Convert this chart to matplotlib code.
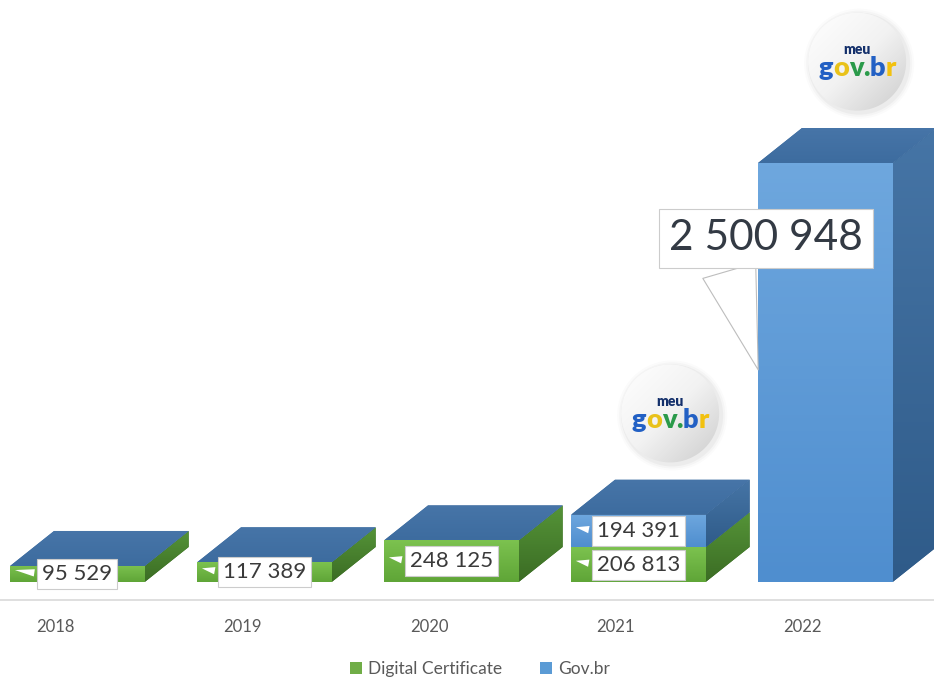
import numpy as np
import matplotlib
matplotlib.use('Agg')
import matplotlib.pyplot as plt
from matplotlib.patches import Polygon, Circle, Rectangle
from matplotlib.colors import LinearSegmentedColormap
from matplotlib.offsetbox import TextArea, HPacker, VPacker, AnnotationBbox
from matplotlib.transforms import ScaledTranslation

years = ['2018', '2019', '2020', '2021', '2022']
cert = [95529, 117389, 248125, 206813, 0]
govbr = [0, 0, 0, 194391, 2500948]
series = ['Digital Certificate', 'Gov.br']

plt.rcParams['font.family'] = ['Lato', 'DejaVu Sans']

GREEN = '#70ad47'
BLUE = '#5b9bd5'
TXT = '#3a3a3a'

x = np.arange(len(years))
bar_w = 0.72
shift = 0.12        # front faces sit right of the tick (perspective)
dx, dy = 0.235, 209000  # depth of the fake 3d boxes


def fmt(v):
    return f'{v:,}'.replace(',', ' ')


fig = plt.figure(figsize=(9.34, 6.8), dpi=100)
ax = fig.add_axes([0, 80 / 680, 1, 600 / 680])
ax.set_xlim(-0.294, 4.701)
ax.set_ylim(-107400, 3474000)
ax.set_autoscale_on(False)


def grad(patch, c_top, c_bot, ext, z):
    cmap = LinearSegmentedColormap.from_list('g', [c_bot, c_top])
    g = np.linspace(0, 1, 128).reshape(-1, 1)
    im = ax.imshow(g, cmap=cmap, extent=ext, origin='lower', aspect='auto', zorder=z)
    im.set_clip_path(patch)


def face(pts, c_top, c_bot, z):
    poly = Polygon(pts, closed=True, fc=c_bot, ec='none', zorder=z)
    ax.add_patch(poly)
    xs, ys = zip(*pts)
    grad(poly, c_top, c_bot, (min(xs), max(xs), min(ys), max(ys)), z + 0.01)


b_cert = ax.bar(x + shift, cert, bar_w, color=GREEN, zorder=2)
b_gov = ax.bar(x + shift, govbr, bar_w, bottom=cert, color=BLUE, zorder=2)

styles = [
    # front top, front bottom, side top, side bottom
    (b_cert, ('#7cc24f', '#5fa537', '#559438', '#3b6c24')),
    (b_gov, ('#6ea7de', '#4f8ecf', '#4675a6', '#2f5b89')),
]
for bars, (ft, fb, st, sb) in styles:
    for p in bars:
        l, y0 = p.get_x(), p.get_y()
        r, y1 = l + p.get_width(), y0 + p.get_height()
        if y1 - y0 <= 0:
            continue
        grad(p, ft, fb, (l, r, y0, y1), 2.01)
        face([(r, y0), (r + dx, y0 + dy), (r + dx, y1 + dy), (r, y1)], st, sb, 1.9)

# top faces (always the Gov.br colour, as the chart shows)
for i in x:
    l = x[i] + shift - bar_w / 2
    r = l + bar_w
    t = cert[i] + govbr[i]
    face([(l, t), (l + dx, t + dy), (r + dx, t + dy), (r, t)], '#4775a8', '#3d6c9f', 1.95)

ax.set_xticks(x, years)
ax.tick_params(axis='x', length=0, pad=14, labelsize=12, labelcolor='#595959')
ax.tick_params(axis='y', left=False, labelleft=False)
for s in ['left', 'right', 'top']:
    ax.spines[s].set_visible(False)
ax.spines['bottom'].set_color('#d9d9d9')
ax.spines['bottom'].set_linewidth(1.2)


def small_label(v, xc, left, ymid):
    ax.annotate(fmt(v), xy=(left + 0.011, ymid + 26000), xytext=(xc, ymid),
                ha='center', va='center', fontsize=16, color=TXT, zorder=5,
                bbox=dict(boxstyle='square,pad=0.22', fc='white', ec='#cccccc', lw=0.8),
                arrowprops=dict(arrowstyle='wedge,tail_width=0.33', fc='white', ec='none',
                                relpos=(0, 0.5)))


for i in x:
    l = x[i] + shift - bar_w / 2
    xc = x[i] + shift
    if i < 4:
        if cert[i] > 0:
            small_label(cert[i], xc, l, cert[i] / 2)
        if govbr[i] > 0:
            small_label(govbr[i], xc, l, cert[i] + govbr[i] / 2)
    else:
        ax.annotate(fmt(govbr[i]), xy=(l + 0.005, govbr[i] * 0.5),
                    xytext=(l + 0.043, govbr[i] * 0.82),
                    ha='center', va='center', fontsize=30.5, color='#333a44', zorder=5,
                    bbox=dict(boxstyle='square,pad=0.24', fc='white', ec='#cccccc', lw=0.8),
                    arrowprops=dict(arrowstyle='wedge,tail_width=1.3', fc='white',
                                    ec='#bdbdbd', lw=0.8, relpos=(0.29, 0)))


def logo(xc, yc):
    tr = fig.dpi_scale_trans + ScaledTranslation(xc, yc, ax.transData)
    for rad, a in [(0.55, 0.03), (0.53, 0.05), (0.51, 0.08)]:
        ax.add_patch(Circle((0.02, -0.02), rad, transform=tr, fc='#8a8a8a', ec='none',
                            alpha=a, zorder=6))
    disc = Circle((0, 0), 0.49, transform=tr, fc='#ececec', ec='none', zorder=6.1)
    ax.add_patch(disc)
    cx, cy = ax.transData.transform((xc, yc))
    (x0, y0), (x1, y1) = ax.transData.inverted().transform([(cx - 50, cy - 50), (cx + 50, cy + 50)])
    xx, yy = np.meshgrid(np.linspace(0, 1, 100), np.linspace(0, 1, 100))
    g = (xx + (1 - yy)) / 2
    cmap = LinearSegmentedColormap.from_list('d', ['#ffffff', '#f2f2f2', '#cccccc'])
    im = ax.imshow(g, cmap=cmap, extent=(x0, x1, y0, y1), origin='lower', aspect='auto',
                   zorder=6.2)
    im.set_clip_path(disc)
    letters = [('g', '#2260c4'), ('o', '#e9c21a'), ('v', '#2a9a4a'), ('.', '#2a9a4a'),
               ('b', '#2260c4'), ('r', '#f2c10f')]
    row = HPacker(children=[TextArea(c, textprops=dict(color=col, fontsize=19.5, fontweight='heavy'))
                            for c, col in letters], align='baseline', pad=0, sep=0)
    meu = TextArea('meu', textprops=dict(color='#14306b', fontsize=10, fontweight='heavy'))
    box = VPacker(children=[meu, row], align='center', pad=0, sep=0)
    ax.add_artist(AnnotationBbox(box, (xc, yc), frameon=False, zorder=7))


for i in [3, 4]:
    logo(x[i] + 0.29, cert[i] + govbr[i] + 605000)

handles = [Rectangle((0, 0), 1, 1, fc=GREEN), Rectangle((0, 0), 1, 1, fc=BLUE)]
fig.legend(handles, series, loc='center', bbox_to_anchor=(0.514, 0.016), ncol=2,
           frameon=False, fontsize=12.5, labelcolor='#595959', handlelength=0.7,
           handleheight=0.7, handletextpad=0.35, columnspacing=2.2)

fig.savefig('out.png', dpi=100, facecolor='white')
